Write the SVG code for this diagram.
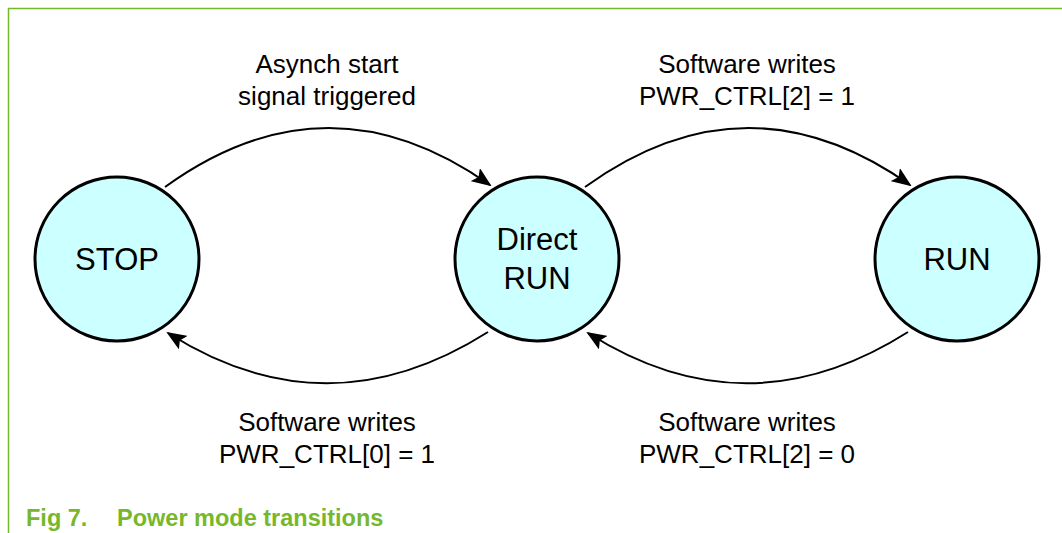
<svg xmlns="http://www.w3.org/2000/svg" width="1062" height="533" viewBox="0 0 1062 533">
<style>
.node{fill:#ccffff;stroke:#000;stroke-width:3}
.lbl{font-family:"Liberation Sans",Arial,sans-serif;font-size:31px;fill:#000;text-anchor:middle}
.t{font-family:"Liberation Sans",Arial,sans-serif;font-size:26px;fill:#000;text-anchor:middle}
.c{fill:none;stroke:#000;stroke-width:2;marker-end:url(#ah)}
.cap{font-family:"Liberation Sans",Arial,sans-serif;font-size:23.5px;font-weight:bold;fill:#76b82a}
</style>
<defs>
<marker id="ah" viewBox="0 0 20 16" refX="18" refY="8" markerWidth="20" markerHeight="16" orient="auto" markerUnits="userSpaceOnUse">
<path d="M0,0 L20,8 L0,16 L4,8 Z" fill="#000"/>
</marker>
</defs>
<rect width="1062" height="533" fill="#fff"/>
<path d="M8.5,533 V8.5 H1062" fill="none" stroke="#76b82a" stroke-width="1.5"/>
<g id="connectors">
<path class="c" d="M165,187 Q327,70 490,185"/>
<path class="c" d="M488,332 Q327,434 168,333"/>
<path class="c" d="M585,187 Q747,70 910,185"/>
<path class="c" d="M908,332 Q747,434 588,333"/>
<text class="t" x="327" y="73">Asynch start</text>
<text class="t" x="327" y="105">signal triggered</text>
<text class="t" x="747" y="73">Software writes</text>
<text class="t" x="747" y="105">PWR_CTRL[2] = 1</text>
<text class="t" x="327" y="431">Software writes</text>
<text class="t" x="327" y="463">PWR_CTRL[0] = 1</text>
<text class="t" x="747" y="431">Software writes</text>
<text class="t" x="747" y="463">PWR_CTRL[2] = 0</text>
</g>
<g id="stop">
<circle class="node" cx="117" cy="259" r="82"/>
<text class="lbl" x="117" y="270">STOP</text>
</g>
<g id="direct-run">
<circle class="node" cx="537" cy="259" r="82"/>
<text class="lbl" x="537" y="250">Direct</text>
<text class="lbl" x="537" y="289">RUN</text>
</g>
<g id="run">
<circle class="node" cx="957" cy="259" r="82"/>
<text class="lbl" x="957" y="270">RUN</text>
</g>
<text class="cap" x="26" y="526">Fig 7.</text>
<text class="cap" x="117" y="526">Power mode transitions</text>
</svg>
